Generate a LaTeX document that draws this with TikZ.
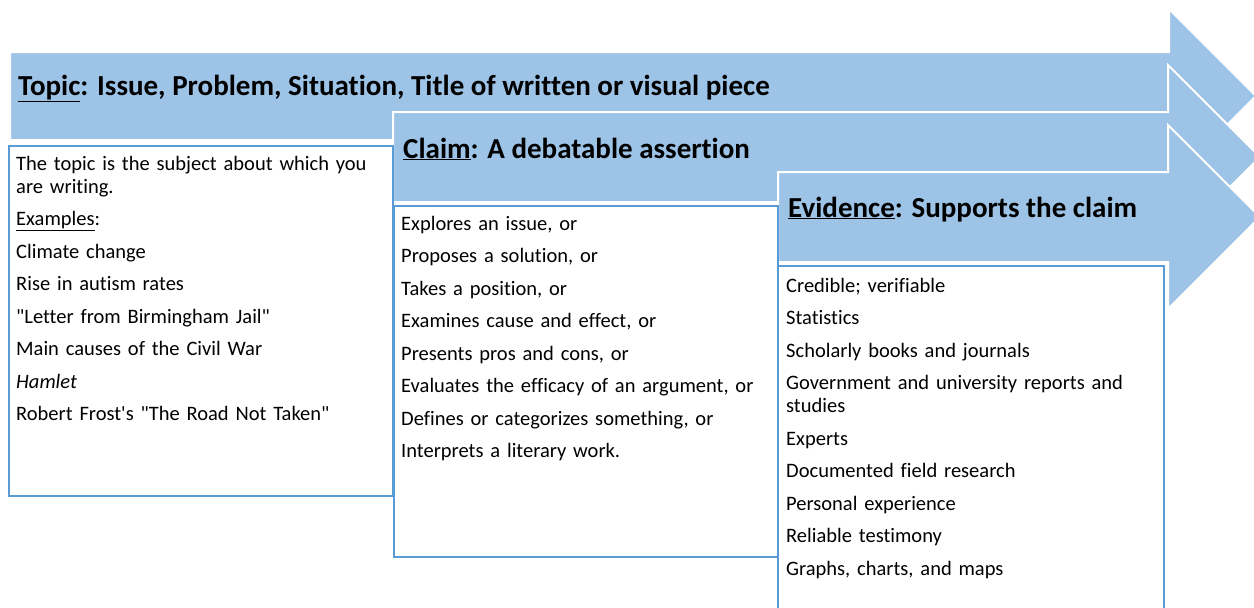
\documentclass[tikz,border=0pt]{standalone}
\usepackage{fontspec}
\setmainfont{Carlito}[Ligatures={TeXOff,NoCommon}]
\usetikzlibrary{positioning}
\definecolor{arrowblue}{HTML}{9DC3E6}
\definecolor{boxblue}{HTML}{5B9BD5}

\begin{document}
\begin{tikzpicture}[x=1pt,y=-1pt]
\tikzstyle{flow}=[fill=arrowblue,draw=white,line width=2pt,line join=miter]
\tikzstyle{textbox}=[fill=white,draw=boxblue,line width=2.5pt]
\tikzstyle{heading}=[anchor=base west,inner sep=0pt,font=\fontsize{29}{34}\selectfont\bfseries]
\tikzstyle{bodytext}=[anchor=north west,inner sep=0pt,text width=374pt,align=left,font=\fontsize{20.5}{23}\selectfont]
\useasboundingbox (0,0) rectangle (1254,608);
% arrows
\draw [flow] (10,52) -- (1169,52) -- (1169,9) -- (1256,96) -- (1169,183) -- (1169,140) -- (10,140) -- cycle;
\draw [flow] (393,112) -- (1168,112) -- (1168,65) -- (1260,157) -- (1168,249) -- (1168,202) -- (393,202) -- cycle;
\draw [flow] (778,172) -- (1168,172) -- (1168,125) -- (1260,217) -- (1168,309) -- (1168,262) -- (778,262) -- cycle;
\draw (18,95) node [heading] (topichead) {\underline{Topic}: Issue, Problem, Situation, Title of written or visual piece};
\draw (403,158) node [heading] (claimhead) {\underline{Claim}: A debatable assertion};
\draw (788,217) node [heading] (evidhead) {\underline{Evidence}: Supports the claim};
% boxes
\draw [textbox] (9,146) rectangle (393,496);
\draw [textbox] (394,206) rectangle (778,557);
\draw [textbox] (778,266) rectangle (1164,630);
\draw (16,154) node [bodytext] (topictext) {\setlength{\parskip}{9.5pt}%
\strut The topic is the subject about which you\newline are writing.\par
\underline{Examples}:\par
Climate change\par
Rise in autism rates\par
"Letter from Birmingham Jail"\par
Main causes of the Civil War\par
\textit{Hamlet}\par
Robert Frost's "The Road Not Taken"};
\draw (401,214) node [bodytext] (claimtext) {\setlength{\parskip}{9.5pt}%
\strut Explores an issue, or\par
Proposes a solution, or\par
Takes a position, or\par
Examines cause and effect, or\par
Presents pros and cons, or\par
Evaluates the efficacy of an argument, or\par
Defines or categorizes something, or\par
Interprets a literary work.};
\draw (786,276) node [bodytext] (evidtext) {\setlength{\parskip}{9.5pt}%
\strut Credible; verifiable\par
Statistics\par
Scholarly books and journals\par
Government and university reports and\newline studies\par
Experts\par
Documented field research\par
Personal experience\par
Reliable testimony\par
Graphs, charts, and maps};
\end{tikzpicture}
\end{document}
